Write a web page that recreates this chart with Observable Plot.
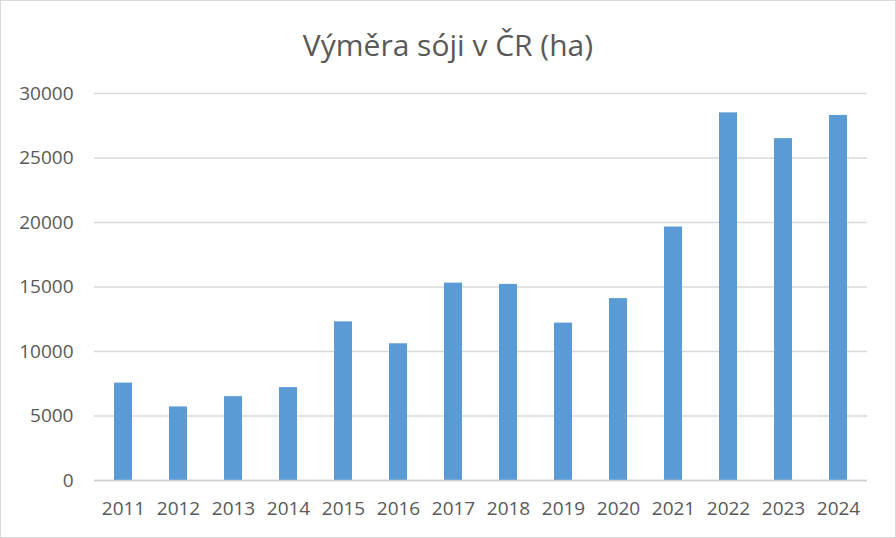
<!DOCTYPE html>
<html>
<head>
<meta charset="utf-8">
<script src="https://cdn.jsdelivr.net/npm/d3@7"></script>
<script src="https://cdn.jsdelivr.net/npm/@observablehq/plot@0.6"></script>
<style>
  html, body { margin: 0; padding: 0; background: #fff; }
  #wrap { position: relative; width: 896px; height: 538px; overflow: hidden; font-family: "Open Sans", sans-serif; }
  #title { height: 75px; line-height: 90px; text-align: center; font-size: 30px; color: #595959; }
  #frame { position: absolute; left: 0; top: 0; width: 894px; height: 536px; border: 1px solid #d9d9d9; pointer-events: none; }
</style>
</head>
<body>
<div id="wrap">
  <div id="title">Výměra sóji v ČR (ha)</div>
  <div id="chart"></div>
  <div id="frame"></div>
</div>
<script>
const years = ["2011","2012","2013","2014","2015","2016","2017","2018","2019","2020","2021","2022","2023","2024"];
const area = [7550, 5700, 6500, 7200, 12300, 10600, 15300, 15200, 12200, 14100, 19650, 28500, 26500, 28300];
const yTicks = [0, 5000, 10000, 15000, 20000, 25000, 30000];

const data = years.map((y, i) => ({year: y, value: area[i]}));

const chart = Plot.plot({
  width: 896,
  height: 463,
  marginLeft: 94,
  marginRight: 29,
  marginTop: 18,
  marginBottom: 58,
  style: {fontFamily: "'Open Sans', sans-serif", fontSize: "19px", color: "#595959", background: "transparent"},
  x: {domain: years, paddingInner: 0.67, paddingOuter: 0.335, label: null, tickSize: 0, tickPadding: 21},
  y: {domain: [0, 30000], ticks: yTicks, tickFormat: d => String(d), label: null, tickSize: 0, tickPadding: 21},
  marks: [
    Plot.ruleY(yTicks, {stroke: "#d9d9d9", strokeWidth: 1.3}),
    Plot.barY(data, {x: "year", y: "value", fill: "#5b9bd5"}),
    Plot.ruleY([0], {stroke: "#d0d0d0", strokeWidth: 1.3})
  ]
});
document.getElementById("chart").appendChild(chart);
</script>
</body>
</html>
